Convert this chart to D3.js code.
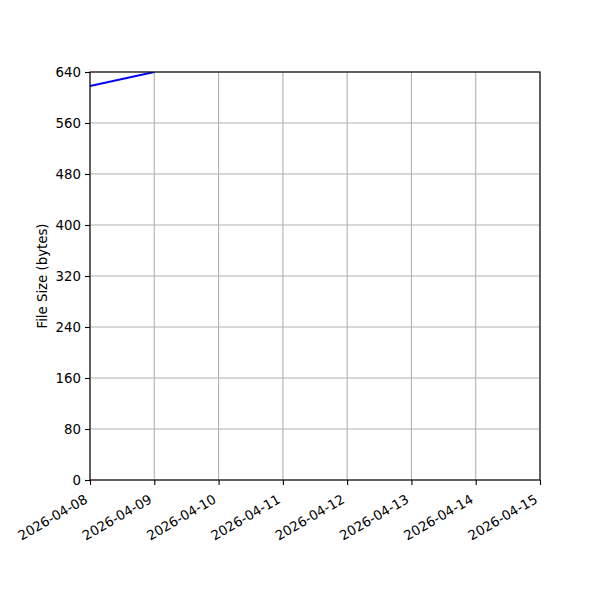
<!DOCTYPE html>
<html>
<head>
<meta charset="utf-8">
<script src="https://cdn.jsdelivr.net/npm/d3@7"></script>
<style>
  body { margin: 0; background: #fff; }
  text { font-family: "DejaVu Sans", sans-serif; }
</style>
</head>
<body>
<div id="chart"></div>
<script>
// data
var dates = ["2026-04-08", "2026-04-09"];
var sizes = [618, 640];
var xTicks = ["2026-04-08", "2026-04-09", "2026-04-10", "2026-04-11", "2026-04-12", "2026-04-13", "2026-04-14", "2026-04-15"];
var yTicks = [0, 80, 160, 240, 320, 400, 480, 560, 640];

var margin = { top: 72, right: 60, bottom: 120, left: 90 },
    width = 600 - margin.left - margin.right,
    height = 600 - margin.top - margin.bottom;

var parse = d3.utcParse("%Y-%m-%d");
var fmt = d3.utcFormat("%Y-%m-%d");

var svg = d3.select("#chart")
    .append("svg")
    .attr("width", 600)
    .attr("height", 600)
    .append("g")
    .attr("transform", "translate(" + margin.left + "," + margin.top + ")");

var x = d3.scaleUtc()
    .domain([parse(xTicks[0]), parse(xTicks[xTicks.length - 1])])
    .range([0, width]);

var y = d3.scaleLinear()
    .domain([0, 640])
    .range([height, 0]);

// grid
svg.append("g")
    .selectAll("line")
    .data(xTicks)
    .enter()
    .append("line")
    .attr("x1", function (d) { return x(parse(d)); })
    .attr("x2", function (d) { return x(parse(d)); })
    .attr("y1", 0)
    .attr("y2", height)
    .attr("stroke", "#b0b0b0")
    .attr("stroke-width", 1.1);

svg.append("g")
    .selectAll("line")
    .data(yTicks)
    .enter()
    .append("line")
    .attr("x1", 0)
    .attr("x2", width)
    .attr("y1", function (d) { return y(d); })
    .attr("y2", function (d) { return y(d); })
    .attr("stroke", "#b0b0b0")
    .attr("stroke-width", 1.1);

// clip for the line
svg.append("defs").append("clipPath")
    .attr("id", "clip")
    .append("rect")
    .attr("width", width)
    .attr("height", height);

var line = d3.line()
    .x(function (d, i) { return x(parse(dates[i])); })
    .y(function (d) { return y(d); });

svg.append("path")
    .datum(sizes)
    .attr("clip-path", "url(#clip)")
    .attr("fill", "none")
    .attr("stroke", "#0000ff")
    .attr("stroke-width", 2)
    .attr("d", line);

// axes
var xAxis = svg.append("g")
    .attr("transform", "translate(0," + height + ")")
    .call(d3.axisBottom(x)
        .tickValues(xTicks.map(parse))
        .tickFormat(fmt)
        .tickSizeOuter(0)
        .tickSize(5)
        .tickPadding(3));

xAxis.selectAll("text")
    .attr("font-size", 13.3)
    .attr("fill", "#000")
    .attr("text-anchor", "end")
    .attr("x", 0)
    .attr("y", 0)
    .attr("dx", 0)
    .attr("dy", 0)
    .attr("transform", "translate(-2,22) rotate(-30)");

var yAxis = svg.append("g")
    .call(d3.axisLeft(y)
        .tickValues(yTicks)
        .tickSizeOuter(0)
        .tickSize(5)
        .tickPadding(4));

yAxis.selectAll("text")
    .attr("font-size", 13.3)
    .attr("fill", "#000");

svg.selectAll(".domain").remove();
svg.selectAll(".tick line").attr("stroke", "#000").attr("stroke-width", 1.1);

// frame
svg.append("rect")
    .attr("width", width)
    .attr("height", height)
    .attr("fill", "none")
    .attr("stroke", "#000")
    .attr("stroke-width", 1.1);

// y label
svg.append("text")
    .attr("transform", "translate(-43," + (height / 2) + ") rotate(-90)")
    .attr("text-anchor", "middle")
    .attr("font-size", 13.3)
    .text("File Size (bytes)");
</script>
</body>
</html>
